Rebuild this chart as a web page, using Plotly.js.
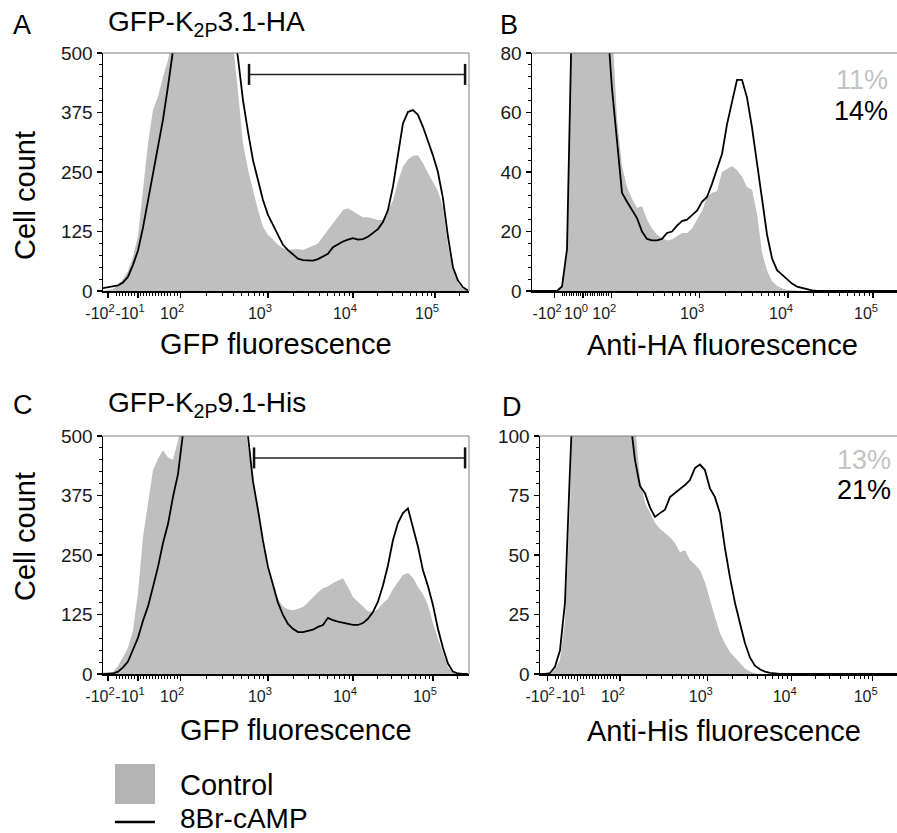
<!DOCTYPE html>
<html>
<head>
<meta charset="utf-8">
<script src="https://cdn.plot.ly/plotly-3.0.1.min.js"></script>
<style>html,body{margin:0;padding:0;background:#fff;}#chart{width:897px;height:833px;}</style>
</head>
<body>
<div id="chart"></div>
<script>
// Display channels (0-1024 biexponential display scale), shared bins
var channels = [0,14,28,42,56,70,84,98,112,126,140,154,168,182,196,210,224,238,252,266,280,294,308,322,336,350,364,378,392,406,420,434,448,462,476,490,504,518,532,546,560,574,588,602,616,630,644,658,672,686,700,714,728,742,756,770,784,798,812,826,840,854,868,882,896,910,924,938,952,966,980,994,1008,1022];

// Panel A: GFP-K2P3.1-HA, GFP fluorescence (cell counts)
var controlA = [0,2,4,13,25,42,72,115,219,310,380,408,450,485,540,620,740,850,950,1030,1080,1080,1020,920,790,650,520,420,310,255,210,170,135,118,108,97,90,87,87,88,86,90,95,100,113,128,142,157,170,174,168,162,155,155,152,149,149,168,190,230,261,276,284,285,269,248,230,210,176,95,44,16,5,0];
var campA = [6,8,10,12,18,30,55,85,133,188,250,305,360,430,505,620,760,860,950,1050,1100,1100,1040,940,820,680,560,490,401,335,275,233,191,160,138,118,97,86,76,68,65,64,64,67,72,78,92,98,104,108,111,108,109,114,122,130,145,170,219,282,352,376,380,370,345,315,285,250,195,115,50,22,8,1];

// Panel B: Anti-HA fluorescence
var controlB = [0,0,0,0,0,0,1,12,100,170,210,220,200,170,130,105,90,58,42,35,31,28,28.5,24,21,19,17.8,17,17.3,18.5,19.5,19.5,21,24,27,31.6,33,33.5,40,41,42,40.6,38.5,35,34,26,13,7,3.3,1.8,0.8,0.4,0.2,0,0,0,0,0,0,0,0,0,0,0,0,0,0,0,0,0,0,0,0,0];
var campB = [0,0,0,0,0,0,1.5,14,95,160,200,210,190,160,120,92,68,51,33,30,27,24.5,20,17.5,17,17,17.5,19.5,20,22,23.5,24,25.5,27,30,31.6,36,41,46,56,64,71,71,65,55,43,30,19,11,7,5.5,4,2.5,1.5,1,0.5,0.2,0,0,0,0,0,0,0,0,0,0,0,0,0,0,0,0,0];

// Panel C: GFP-K2P9.1-His, GFP fluorescence
var controlC = [0,1,4,17,35,55,92,170,288,355,428,452,470,455,450,490,540,650,780,900,1000,1060,1090,1080,1040,970,860,720,560,477,415,335,270,218,182,158,142,136,134,137,141,150,161,172,180,184,191,196,201,183,162,152,141,132,130,136,149,158,178,194,208,212,202,183,168,145,107,75,42,14,3,0,0,0];
var campC = [0,0,1,5,14,26,50,76,112,142,183,225,275,315,372,420,505,640,760,880,980,1050,1080,1070,1030,960,850,720,600,500,405,345,280,225,185,150,124,105,95,88,88,90,93,99,103,118,113,110,108,106,103,103,107,116,130,152,186,228,281,317,338,348,305,268,218,185,145,95,55,22,5,1,0,0];

// Panel D: Anti-His fluorescence
var controlD = [0,0,0,2,6,22,70,160,250,310,345,355,345,315,275,225,185,150,120,105,82,72,67.6,63.5,61,59.2,57.5,55,51.2,52,47.9,46,43.7,38.5,31,24,17.2,12.8,9.2,7,4.6,2.3,1,0.3,0,0,0,0,0,0,0,0,0,0,0,0,0,0,0,0,0,0,0,0,0,0,0,0,0,0,0,0,0,0];
var campD = [0,0,0.4,3,10,30,86,160,240,300,330,340,330,300,260,210,170,135,108,90,79,76,70,66,67.6,69,74.3,76,77.3,79.4,81.5,86.5,88,85.7,78,74.3,67.6,53,40.7,30,21.4,13,7,3.5,2,1,0.5,0.2,0,0,0,0,0,0,0,0,0,0,0,0,0,0,0,0,0,0,0,0,0,0,0,0,0,0];

// Positive gates (display channel bounds, count level)
var gateA = [409, 1014], gateAlevel = 455;
var gateC = [423, 1014], gateClevel = 454;

// Tick labels
var labelsAC = ['-10<sup>2</sup>','-10<sup>1</sup>','10<sup>2</sup>','10<sup>3</sup>','10<sup>4</sup>','10<sup>5</sup>'];
var labelsB = ['-10<sup>2</sup>','10<sup>0</sup>','10<sup>2</sup>','10<sup>3</sup>','10<sup>4</sup>','10<sup>5</sup>'];
var labelsD = ['-10<sup>2</sup>','-10<sup>1</sup>','10<sup>2</sup>','10<sup>3</sup>','10<sup>4</sup>','10<sup>5</sup>'];
var tickPosA = [14,98,216,462,700,930];
var tickPosB = [62,143,222,468,717,955];
var tickPosC = [14,98,216,462,700,924];
var tickPosD = [20,106,224,470,705,932];
// decade positions (-10^2, 10^2, 10^3, 10^4, 10^5) on each display scale
var decA = [28,216,462,700,930], decB = [78,221,468,717,955], decC = [28,216,462,700,924], decD = [36,224,470,703,932];

var pctB = ['11%','14%'], pctD = ['13%','21%'];

var FONT = 'Liberation Sans, Arial, Helvetica, sans-serif';
var GRAY = 'rgb(191,191,191)';

function minorVals(d) {
  var v = [], n = 22;
  for (var i = 1; i < n; i++) v.push(d[0] + (d[1]-d[0])*i/n);
  var dec = [[d[1],d[2]],[d[2],d[3]],[d[3],d[4]],[d[4], d[4] + (d[4]-d[3])]];
  dec.forEach(function(p){ for (var m = 2; m <= 9; m++) v.push(p[0] + Math.log10(m)*(p[1]-p[0])); });
  return v;
}

function fillTrace(y, xa, ya) {
  return {x: channels, y: y, xaxis: xa, yaxis: ya, type: 'scatter', mode: 'lines',
    fill: 'tozeroy', fillcolor: GRAY, line: {width: 0, color: GRAY}, hoverinfo: 'skip', showlegend: false, name: 'Control'};
}
function lineTrace(y, xa, ya) {
  return {x: channels, y: y, xaxis: xa, yaxis: ya, type: 'scatter', mode: 'lines',
    line: {width: 1.8, color: '#000'}, hoverinfo: 'skip', showlegend: false, name: '8Br-cAMP'};
}
function gateTrace(g, lvl, xa, ya) {
  return {x: g, y: [lvl, lvl], xaxis: xa, yaxis: ya, type: 'scatter', mode: 'lines+markers',
    line: {width: 1.5, color: '#222'}, marker: {symbol: 'line-ns', size: 15, line: {width: 2.5, color: '#111'}},
    hoverinfo: 'skip', showlegend: false};
}

var data = [
  fillTrace(controlA,'x','y'), lineTrace(campA,'x','y'), gateTrace(gateA, gateAlevel, 'x','y'),
  fillTrace(controlB,'x2','y2'), lineTrace(campB,'x2','y2'),
  fillTrace(controlC,'x3','y3'), lineTrace(campC,'x3','y3'), gateTrace(gateC, gateClevel, 'x3','y3'),
  fillTrace(controlD,'x4','y4'), lineTrace(campD,'x4','y4')
];

function xAxis(domain, range, tv, tt, dec, shift, anchor) {
  return {domain: domain, range: range, anchor: anchor, showgrid: false, zeroline: false,
    showline: true, linecolor: '#000', linewidth: 2, ticks: 'outside', ticklen: 5, tickwidth: 1.2, tickcolor: '#000',
    tickmode: 'array', tickvals: tv, ticktext: tt, tickangle: 0, ticklabelshift: shift, ticklabelstandoff: 2,
    tickfont: {family: FONT, size: 16, color: '#1a1a1a'},
    minor: {tickmode: 'array', tickvals: minorVals(dec), ticks: 'outside', ticklen: 3, tickwidth: 1, tickcolor: '#000', showgrid: false},
    fixedrange: true};
}
function yAxis(domain, range, tv, mdt, anchor) {
  return {domain: domain, range: range, anchor: anchor, showgrid: false, zeroline: false,
    showline: true, linecolor: '#000', linewidth: 1.5, ticks: 'outside', ticklen: 5, tickwidth: 1.5, tickcolor: '#000',
    tickmode: 'array', tickvals: tv, tickfont: {family: FONT, size: 19, color: '#1a1a1a'},
    minor: {tickmode: 'linear', tick0: 0, dtick: mdt, ticks: 'outside', ticklen: 3, tickwidth: 1, tickcolor: '#000', showgrid: false},
    fixedrange: true};
}

var W = 897, H = 833;
function px(x){ return x / W; }
function py(y){ return (H - y) / H; }

var topDom = [py(291), py(53)], botDom = [py(674), py(436)];
var leftDom = [px(103), px(469)];

function ann(text, x, y, size, opts) {
  var a = {text: text, x: x, y: y, xref: 'paper', yref: 'paper', showarrow: false,
    font: {family: FONT, size: size, color: (opts && opts.color) || '#000'},
    xanchor: (opts && opts.xanchor) || 'left', yanchor: 'middle'};
  if (opts && opts.textangle !== undefined) a.textangle = opts.textangle;
  return a;
}

var annotations = [
  ann('A', px(11), py(25), 27), ann('B', px(498), py(25), 27),
  ann('C', px(11), py(405), 27), ann('D', px(500), py(407), 27),
  ann('GFP-K<sub>2P</sub>3.1-HA', px(106), py(24), 28),
  ann('GFP-K<sub>2P</sub>9.1-His', px(106), py(404), 28),
  ann('GFP fluorescence', px(276), py(344), 29, {xanchor: 'center'}),
  ann('Anti-HA fluorescence', px(722), py(345), 29, {xanchor: 'center'}),
  ann('GFP fluorescence', px(296), py(730), 29, {xanchor: 'center'}),
  ann('Anti-His fluorescence', px(724), py(731), 29, {xanchor: 'center'}),
  ann('Cell count', px(25), py(196), 29, {xanchor: 'center', textangle: -90}),
  ann('Cell count', px(25), py(537), 29, {xanchor: 'center', textangle: -90}),
  ann(pctB[0], px(890), py(80), 27, {xanchor: 'right', color: 'rgb(195,195,195)'}),
  ann(pctB[1], px(890), py(111), 27, {xanchor: 'right'}),
  ann(pctD[0], px(893), py(460), 27, {xanchor: 'right', color: 'rgb(195,195,195)'}),
  ann(pctD[1], px(893), py(490), 27, {xanchor: 'right'}),
  ann('Control', px(178), py(785), 29),
  ann('8Br-cAMP', px(178), py(818), 28)
];

function border(xa, ya, right) {
  var s = [{type: 'line', xref: xa + ' domain', yref: ya + ' domain', x0: 0, x1: 1, y0: 1, y1: 1, line: {color: '#808080', width: 1}}];
  if (right) s.push({type: 'line', xref: xa + ' domain', yref: ya + ' domain', x0: 1, x1: 1, y0: 0, y1: 1, line: {color: '#808080', width: 1}});
  return s;
}
var shapes = [].concat(border('x','y',true), border('x2','y2',false), border('x3','y3',true), border('x4','y4',false));
shapes.push({type: 'rect', xref: 'paper', yref: 'paper', x0: px(115), x1: px(155), y0: py(804), y1: py(764), fillcolor: 'rgb(180,180,180)', line: {width: 0}});
shapes.push({type: 'line', xref: 'paper', yref: 'paper', x0: px(115), x1: px(155), y0: py(822), y1: py(822), line: {width: 2.5, color: '#000'}});

var layout = {
  width: W, height: H, margin: {l: 0, r: 0, t: 0, b: 0}, paper_bgcolor: '#fff', plot_bgcolor: '#fff',
  showlegend: false, font: {family: FONT},
  xaxis: xAxis(leftDom, [0, 1025], tickPosA, labelsAC, decA, -8, 'y'),
  yaxis: yAxis(topDom, [0, 500], [0,125,250,375,500], 25, 'x'),
  xaxis2: xAxis([px(532), 1], [0, 1022], tickPosB, labelsB, decB, -7, 'y2'),
  yaxis2: yAxis(topDom, [0, 80], [0,20,40,60,80], 4, 'x2'),
  xaxis3: xAxis(leftDom, [0, 1025], tickPosC, labelsAC, decC, -8, 'y3'),
  yaxis3: yAxis(botDom, [0, 500], [0,125,250,375,500], 25, 'x3'),
  xaxis4: xAxis([px(540), 1], [0, 1000], tickPosD, labelsD, decD, -7, 'y4'),
  yaxis4: yAxis(botDom, [0, 100], [0,25,50,75,100], 5, 'x4'),
  annotations: annotations, shapes: shapes
};

Plotly.newPlot('chart', data, layout, {staticPlot: true, displayModeBar: false});
</script>
</body>
</html>
